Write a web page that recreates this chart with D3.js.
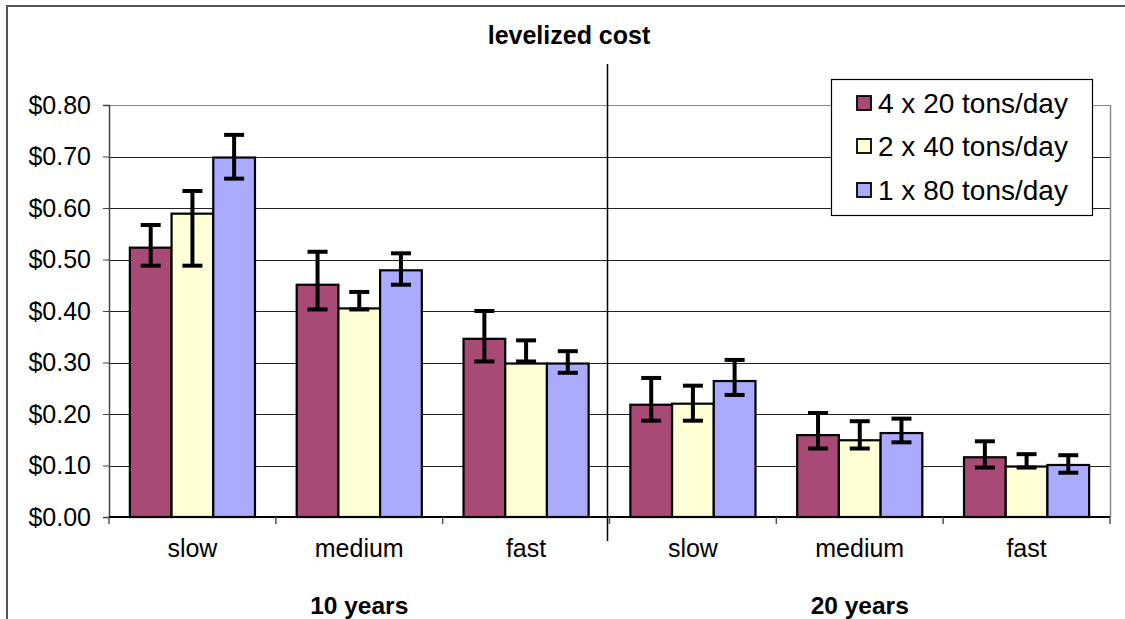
<!DOCTYPE html>
<html><head><meta charset="utf-8">
<script src="https://cdn.jsdelivr.net/npm/d3@7"></script>
<style>body{margin:0;background:#fff}svg{display:block;font-family:"Liberation Sans",Arial,sans-serif}</style>
</head><body><svg id="c" width="1125" height="619"></svg>
<script>
const groups = ["10 years", "20 years"];
const speeds = ["slow", "medium", "fast"];
const categories = ["10 years|slow","10 years|medium","10 years|fast","20 years|slow","20 years|medium","20 years|fast"];
const seriesNames = ["4 x 20 tons/day", "2 x 40 tons/day", "1 x 80 tons/day"];
const seriesColors = ["#A94975", "#FFFFD6", "#AAAAFF"];
const val4x20 = [0.523, 0.451, 0.346, 0.218, 0.159, 0.116];
const val2x40 = [0.589, 0.405, 0.298, 0.220, 0.149, 0.098];
const val1x80 = [0.698, 0.479, 0.298, 0.264, 0.163, 0.101];
const hi4x20 = [0.567, 0.515, 0.400, 0.270, 0.202, 0.147];
const lo4x20 = [0.488, 0.403, 0.302, 0.187, 0.133, 0.096];
const hi2x40 = [0.633, 0.437, 0.343, 0.255, 0.186, 0.122];
const lo2x40 = [0.488, 0.403, 0.302, 0.187, 0.133, 0.096];
const hi1x80 = [0.742, 0.512, 0.322, 0.305, 0.191, 0.120];
const lo1x80 = [0.657, 0.451, 0.280, 0.237, 0.145, 0.086];
const yTicks = [0, 0.1, 0.2, 0.3, 0.4, 0.5, 0.6, 0.7, 0.8];

const values = [val4x20, val2x40, val1x80];
const highs = [hi4x20, hi2x40, hi1x80];
const lows = [lo4x20, lo2x40, lo1x80];

const svg = d3.select("#c");
const L = 109, R = 1110, T = 105, B = 517;

// outer frame
svg.append("rect").attr("x", 7).attr("y", 6).attr("width", 1140).attr("height", 640)
  .attr("fill", "none").attr("stroke", "#555").attr("stroke-width", 2);

const x = d3.scaleBand().domain(categories).range([L, R]).paddingInner(0).paddingOuter(0);
const xs = d3.scaleBand().domain(seriesNames).range([0, x.bandwidth()]).paddingInner(0).paddingOuter(0.5);
const y = d3.scaleLinear().domain([0, 0.8]).range([B, T]);

// gridlines
svg.append("g").selectAll("line").data(yTicks.filter(d => d > 0)).join("line")
  .attr("x1", L).attr("x2", R).attr("y1", d => Math.round(y(d)) + 0.5).attr("y2", d => Math.round(y(d)) + 0.5)
  .attr("stroke", d => d === 0.8 ? "#888" : "#222").attr("stroke-width", 1);
// right border
svg.append("line").attr("x1", R + 0.5).attr("x2", R + 0.5).attr("y1", T).attr("y2", B).attr("stroke", "#888").attr("stroke-width", 1.5);

// y axis
const yAxis = d3.axisLeft(y).tickValues(yTicks).tickFormat(d3.format("$.2f")).tickSize(6).tickPadding(12);
const ya = svg.append("g").attr("transform", `translate(${L},0)`).call(yAxis);
ya.select(".domain").attr("stroke", "#444").attr("stroke-width", 1.5);
ya.selectAll(".tick line").attr("stroke", "#444");
ya.selectAll("text").attr("font-size", 25).attr("fill", "#000").attr("font-family", "Liberation Sans, Arial, sans-serif");

// bars
categories.forEach((c, ci) => {
  seriesNames.forEach((s, si) => {
    const bx = x(c) + xs(s);
    svg.append("rect").attr("x", bx).attr("y", y(values[si][ci]))
      .attr("width", xs.bandwidth()).attr("height", y(0) - y(values[si][ci]))
      .attr("fill", seriesColors[si]).attr("stroke", "#000").attr("stroke-width", 2.2);
  });
});

// x axis line and ticks
svg.append("line").attr("x1", L).attr("x2", R).attr("y1", B).attr("y2", B).attr("stroke", "#000").attr("stroke-width", 2);
const bounds = categories.map(c => x(c)).concat([R]);
svg.append("g").selectAll("line").data(bounds).join("line")
  .attr("x1", d => d).attr("x2", d => d).attr("y1", B).attr("y2", B + 7)
  .attr("stroke", "#555").attr("stroke-width", 1.5);

// error bars
categories.forEach((c, ci) => {
  seriesNames.forEach((s, si) => {
    const cx = x(c) + xs(s) + xs.bandwidth() / 2;
    const g = svg.append("g").attr("stroke", "#000").attr("stroke-width", 4);
    g.append("line").attr("x1", cx).attr("x2", cx).attr("y1", y(highs[si][ci])).attr("y2", y(lows[si][ci]));
    g.append("line").attr("x1", cx - 10).attr("x2", cx + 10).attr("y1", y(highs[si][ci])).attr("y2", y(highs[si][ci]));
    g.append("line").attr("x1", cx - 10).attr("x2", cx + 10).attr("y1", y(lows[si][ci])).attr("y2", y(lows[si][ci]));
  });
});

// divider between groups
const mid = x(categories[3]) - 2;
svg.append("line").attr("x1", mid).attr("x2", mid).attr("y1", 64).attr("y2", 541).attr("stroke", "#000").attr("stroke-width", 1.5);

// category labels
svg.append("g").selectAll("text").data(categories).join("text")
  .attr("x", d => x(d) + x.bandwidth() / 2).attr("y", 557).attr("text-anchor", "middle")
  .attr("font-size", 25).text(d => d.split("|")[1]);

// group labels
groups.forEach((g, gi) => {
  const first = x(categories[gi * 3]);
  const last = x(categories[gi * 3 + 2]) + x.bandwidth();
  svg.append("text").attr("x", (first + last) / 2).attr("y", 614).attr("text-anchor", "middle")
    .attr("font-size", 24.5).attr("font-weight", "bold").text(g);
});

// title
svg.append("text").attr("x", 569).attr("y", 44).attr("text-anchor", "middle")
  .attr("font-size", 25).attr("font-weight", "bold").text("levelized cost");

// legend
const lg = svg.append("g");
lg.append("rect").attr("x", 831.5).attr("y", 79.5).attr("width", 261).attr("height", 136)
  .attr("fill", "#fff").attr("stroke", "#000").attr("stroke-width", 1.2);
const rowY = [103, 146, 190];
seriesNames.forEach((s, i) => {
  lg.append("rect").attr("x", 857).attr("y", rowY[i] - 7).attr("width", 14).attr("height", 14)
    .attr("fill", seriesColors[i]).attr("stroke", "#000").attr("stroke-width", 1.8);
  lg.append("text").attr("x", 878).attr("y", rowY[i] + 10).attr("font-size", 28).text(s);
});
</script></body></html>
